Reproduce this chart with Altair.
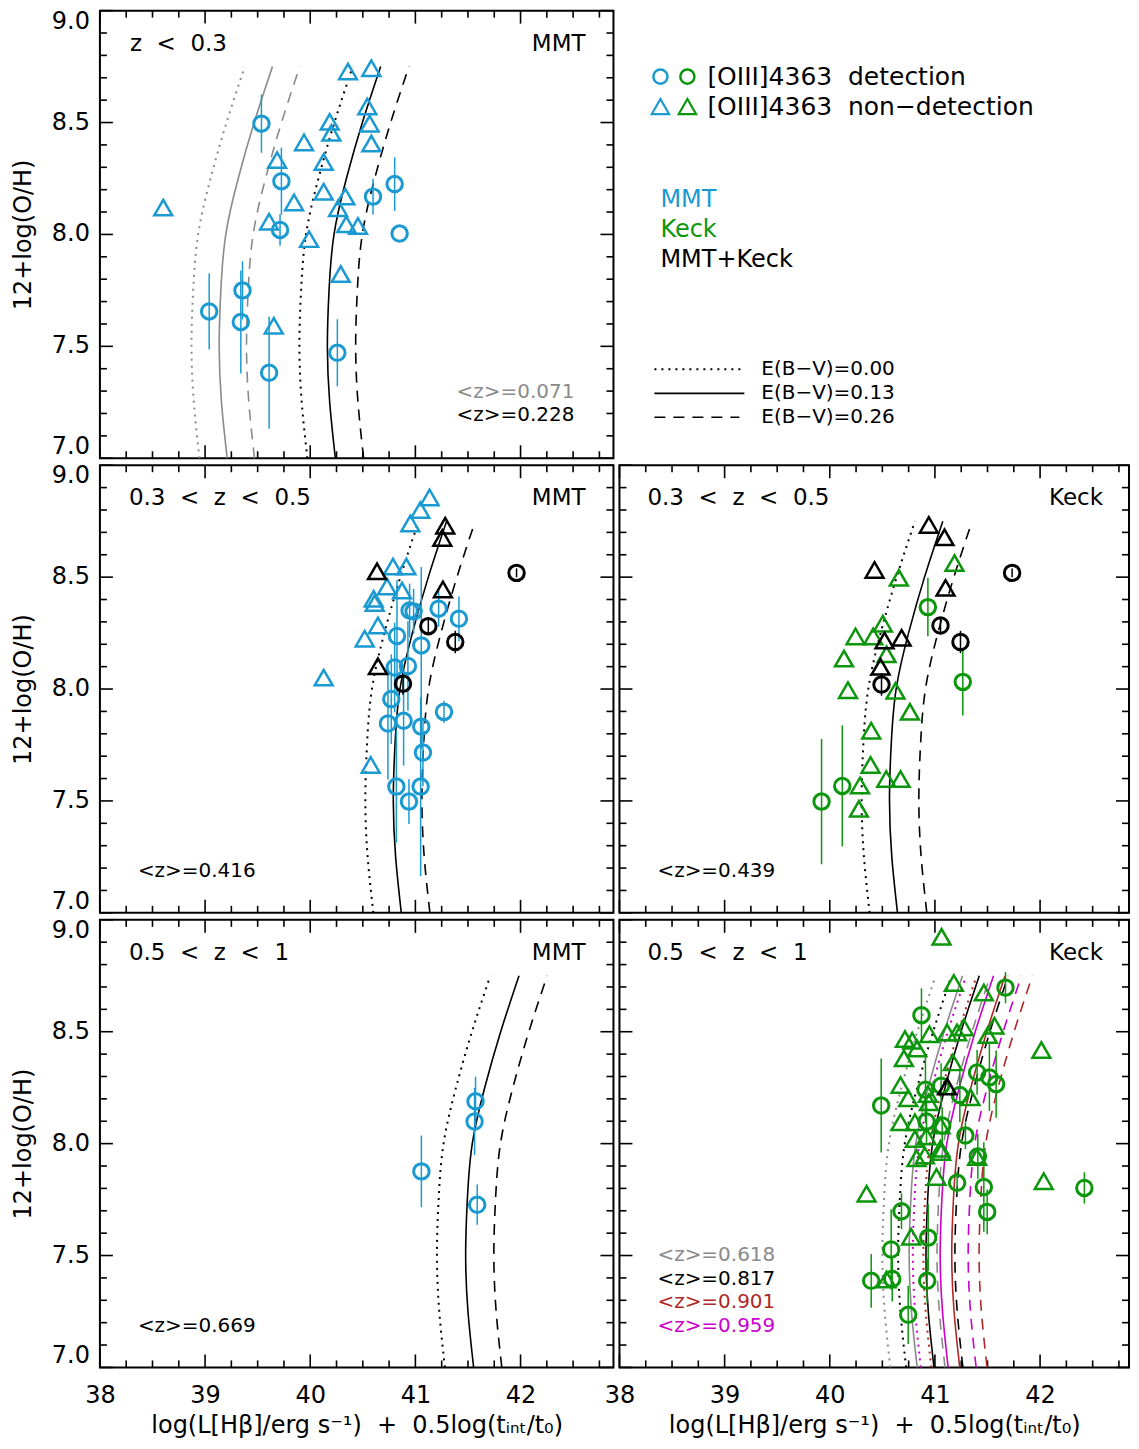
import altair as alt
import pandas as pd

FONT = "DejaVu Sans"
BLUE = "#1B9AD2"
GREEN = "#0B960B"
BLACK = "#000000"
GRAY = "#8A8A8A"
BROWN = "#B02828"
MAGENTA = "#CC00CC"
NB = "\u00a0"  # non-breaking space (SVG collapses normal spaces)

# ---------------- axis ticks ----------------
X_MAJOR = [38, 39, 40, 41, 42]
X_MINOR = [38.25, 38.5, 38.75, 39.25, 39.5, 39.75, 40.25, 40.5, 40.75,
           41.25, 41.5, 41.75, 42.25, 42.5, 42.75]
Y_MAJOR = [7.0, 7.5, 8.0, 8.5, 9.0]
Y_LABELS = ["7.0", "7.5", "8.0", "8.5", "9.0"]
Y_MINOR = [7.1, 7.2, 7.3, 7.4, 7.6, 7.7, 7.8, 7.9, 8.1, 8.2, 8.3, 8.4,
           8.6, 8.7, 8.8, 8.9]

# ---------------- model curves (x at each CURVE_Y) ----------------
CURVE_Y = [7.0, 7.25, 7.5, 7.75, 8.0, 8.25, 8.5, 8.75]

# panel 1: <z>=0.071 (gray) and <z>=0.228 (black)
P1_G_DOT = [38.947, 38.893, 38.871, 38.887, 38.934, 39.052, 39.204, 39.378]
P1_G_SOL = [39.210, 39.156, 39.134, 39.150, 39.197, 39.315, 39.467, 39.641]
P1_G_DSH = [39.470, 39.416, 39.394, 39.410, 39.457, 39.575, 39.727, 39.901]
P1_K_DOT = [39.973, 39.919, 39.897, 39.913, 39.960, 40.078, 40.230, 40.404]
P1_K_SOL = [40.239, 40.185, 40.163, 40.179, 40.226, 40.344, 40.496, 40.670]
P1_K_DSH = [40.508, 40.454, 40.432, 40.448, 40.495, 40.613, 40.765, 40.939]
# panel 2: <z>=0.416
P2_DOT = [40.600, 40.546, 40.524, 40.540, 40.587, 40.705, 40.857, 41.031]
P2_SOL = [40.866, 40.812, 40.790, 40.806, 40.853, 40.971, 41.123, 41.297]
P2_DSH = [41.138, 41.084, 41.062, 41.078, 41.125, 41.243, 41.395, 41.569]
# panel 3: <z>=0.439
P3_DOT = [40.379, 40.325, 40.303, 40.319, 40.366, 40.484, 40.636, 40.810]
P3_SOL = [40.644, 40.590, 40.568, 40.584, 40.631, 40.749, 40.901, 41.075]
P3_DSH = [40.923, 40.869, 40.847, 40.863, 40.910, 41.028, 41.180, 41.354]
# panel 4: <z>=0.669
P4_DOT = [41.281, 41.227, 41.205, 41.221, 41.268, 41.386, 41.538, 41.712]
P4_SOL = [41.554, 41.500, 41.478, 41.494, 41.541, 41.659, 41.811, 41.985]
P4_DSH = [41.822, 41.768, 41.746, 41.762, 41.809, 41.927, 42.079, 42.253]
# panel 5: <z>=0.618 gray, 0.817 black, 0.901 brown, 0.959 magenta
P5_G_DOT = [40.576, 40.522, 40.500, 40.516, 40.563, 40.681, 40.833, 41.007]
P5_G_SOL = [40.831, 40.777, 40.755, 40.771, 40.818, 40.936, 41.088, 41.262]
P5_G_DSH = [41.096, 41.042, 41.020, 41.036, 41.083, 41.201, 41.353, 41.527]
P5_K_DOT = [40.726, 40.672, 40.650, 40.666, 40.713, 40.831, 40.983, 41.157]
P5_K_SOL = [40.991, 40.937, 40.915, 40.931, 40.978, 41.096, 41.248, 41.422]
P5_K_DSH = [41.266, 41.212, 41.190, 41.206, 41.253, 41.371, 41.523, 41.697]
P5_R_DOT = [40.966, 40.912, 40.890, 40.906, 40.953, 41.071, 41.223, 41.397]
P5_R_SOL = [41.236, 41.182, 41.160, 41.176, 41.223, 41.341, 41.493, 41.667]
P5_R_DSH = [41.496, 41.442, 41.420, 41.436, 41.483, 41.601, 41.753, 41.927]
P5_M_DOT = [40.866, 40.812, 40.790, 40.806, 40.853, 40.971, 41.123, 41.297]
P5_M_SOL = [41.126, 41.072, 41.050, 41.066, 41.113, 41.231, 41.383, 41.557]
P5_M_DSH = [41.392, 41.338, 41.316, 41.332, 41.379, 41.497, 41.649, 41.823]

# ---------------- galaxies ----------------
# panel 1 (z<0.3, MMT)
P1_DET_X = [39.536, 39.726, 39.713, 39.039, 39.356, 39.340, 39.609, 40.258, 40.597, 40.803, 40.850]
P1_DET_Y = [8.495, 8.238, 8.020, 7.656, 7.750, 7.609, 7.382, 7.471, 8.169, 8.225, 8.004]
P1_DET_E = [0.13, 0.15, 0.07, 0.17, 0.13, 0.23, 0.25, 0.15, 0.08, 0.12, 0.0]
P1_NON_X = [38.602, 40.359, 40.581, 40.543, 40.565, 40.581, 40.185, 40.201, 39.941, 39.685, 40.128,
            40.128, 39.846, 40.334, 40.265, 39.609, 40.343, 40.454, 39.989, 40.290, 39.653]
P1_NON_Y = [8.120, 8.728, 8.743, 8.572, 8.495, 8.406, 8.503, 8.454, 8.411, 8.332, 8.324,
            8.191, 8.143, 8.169, 8.117, 8.057, 8.045, 8.038, 7.979, 7.823, 7.592]

# panel 2 (0.3<z<0.5, MMT)
P2_DET_X = [40.945, 40.983, 41.221, 41.414, 40.825, 41.056, 40.803, 40.929, 40.771, 41.272, 40.739,
            40.888, 41.056, 41.072, 40.819, 41.050, 40.939]
P2_DET_Y = [8.351, 8.347, 8.359, 8.314, 8.237, 8.195, 8.096, 8.103, 7.955, 7.898, 7.846,
            7.858, 7.832, 7.716, 7.564, 7.564, 7.497]
P2_DET_E = [0.12, 0.10, 0.08, 0.10, 0.25, 0.35, 0.20, 0.20, 0.20, 0.05, 0.25,
            0.20, 0.10, 0.15, 0.25, 0.40, 0.10]
P2_NON_X = [41.135, 41.047, 40.952, 40.787, 40.914, 40.730, 40.873, 40.603, 40.613, 40.644, 40.518, 40.128, 40.575]
P2_NON_Y = [8.856, 8.800, 8.740, 8.547, 8.547, 8.458, 8.440, 8.403, 8.384, 8.284, 8.225, 8.051, 7.661]
P2_BDET_X = [41.123, 41.379, 40.882, 41.962]
P2_BDET_Y = [8.281, 8.210, 8.024, 8.519]
P2_BDET_E = [0.04, 0.05, 0.05, 0.02]
P2_BNON_X = [40.635, 41.284, 41.256, 41.262, 40.644]
P2_BNON_Y = [8.526, 8.730, 8.675, 8.445, 8.102]

# panel 3 (0.3<z<0.5, Keck)
P3_DET_X = [40.933, 41.265, 40.119, 39.922]
P3_DET_Y = [8.366, 8.032, 7.567, 7.497]
P3_DET_E = [0.13, 0.15, 0.27, 0.28]
P3_NON_X = [41.186, 40.657, 40.505, 40.245, 40.413, 40.540, 40.135, 40.173, 40.625, 40.762,
            40.394, 40.388, 40.537, 40.673, 40.287, 40.277]
P3_NON_Y = [8.563, 8.497, 8.292, 8.235, 8.235, 8.155, 8.136, 7.995, 7.992, 7.898,
            7.814, 7.661, 7.598, 7.598, 7.569, 7.465]
P3_BDET_X = [41.053, 41.243, 40.492, 41.734]
P3_BDET_Y = [8.284, 8.210, 8.020, 8.519]
P3_BDET_E = [0.03, 0.05, 0.05, 0.02]
P3_BNON_X = [40.942, 41.091, 40.426, 41.101, 40.521, 40.683, 40.483]
P3_BNON_Y = [8.733, 8.678, 8.532, 8.452, 8.217, 8.229, 8.099]

# panel 4 (0.5<z<1, MMT)
P4_DET_X = [41.572, 41.563, 41.057, 41.588]
P4_DET_Y = [8.189, 8.099, 7.876, 7.727]
P4_DET_E = [0.11, 0.15, 0.16, 0.09]

# panel 5 (0.5<z<1, Keck)
P5_DET_X = [41.671, 40.872, 41.401, 41.518, 41.582, 40.910, 41.059, 41.237, 40.489, 40.920, 41.069, 41.290,
            41.408, 41.211, 41.465, 41.497, 40.682, 40.936, 40.584, 40.594, 40.394, 40.926, 40.746, 42.421]
P5_DET_Y = [8.697, 8.574, 8.318, 8.296, 8.266, 8.241, 8.259, 8.217, 8.170, 8.099, 8.081, 8.036,
            7.943, 7.825, 7.806, 7.695, 7.698, 7.580, 7.527, 7.395, 7.387, 7.387, 7.235, 7.802]
P5_DET_E = [0.07, 0.12, 0.10, 0.15, 0.15, 0.15, 0.10, 0.12, 0.21, 0.10, 0.08, 0.06,
            0.10, 0.05, 0.20, 0.10, 0.08, 0.15, 0.18, 0.10, 0.12, 0.10, 0.13, 0.07]
P5_NON_X = [41.063, 41.180, 41.465, 40.715, 40.784, 40.831, 40.948, 41.116, 41.211, 41.275, 41.503, 41.566,
            42.012, 40.705, 41.170, 40.673, 40.746, 40.933, 40.943, 41.338, 40.673, 40.810, 41.053, 40.810,
            40.920, 41.053, 40.825, 40.904, 41.059, 41.401, 41.015, 42.035, 40.350, 40.774, 40.540]
P5_NON_Y = [8.924, 8.718, 8.675, 8.467, 8.460, 8.425, 8.489, 8.497, 8.497, 8.519, 8.485, 8.527,
            8.418, 8.381, 8.363, 8.262, 8.203, 8.222, 8.185, 8.207, 8.096, 8.096, 8.081, 8.021,
            8.032, 7.977, 7.935, 7.947, 7.962, 7.940, 7.851, 7.832, 7.776, 7.584, 7.393]
P5_BNON_X = [41.116]
P5_BNON_Y = [8.255]

# ---------------- text ----------------
XTITLE = "log(L[H\u03b2]/erg" + NB + "s\u207b\u00b9)" + NB * 2 + "+" + NB * 2 + "0.5log(t\u1d62\u2099\u209c/t\u2080)"
YTITLE = "12+log(O/H)"
SEP = NB * 2
T_LOW = "z" + SEP + "<" + SEP + "0.3"
T_MID = "0.3" + SEP + "<" + SEP + "z" + SEP + "<" + SEP + "0.5"
T_HIGH = "0.5" + SEP + "<" + SEP + "z" + SEP + "<" + SEP + "1"

# ---------------- layout ----------------
W_LEFT, W_RIGHT, H = 514, 510, 448
PX_X = 105.25
PX_Y = H / 2.0
MAJ, MIN = 13, 7

DOT = [2, 5]
DASH = [11, 8]


def make_panel(width, bottom, left, curves, groups, texts):
    xmax = 38 + width / PX_X
    xs = alt.Scale(domain=[38, xmax], nice=False, zero=False)
    ys = alt.Scale(domain=[7, 9], nice=False, zero=False)
    if bottom:
        xaxis = alt.Axis(values=X_MAJOR, format="d", ticks=False, domain=False, grid=False,
                         labelFlush=False, labelFontSize=24, labelPadding=16, labelColor="black",
                         title=XTITLE, titleFontSize=24, titleFontWeight="normal",
                         titlePadding=6, titleColor="black")
    else:
        xaxis = None
    if left:
        yaxis = alt.Axis(labels=False, ticks=False, domain=False, grid=False,
                         title=YTITLE, titleFontSize=24, titleFontWeight="normal",
                         titlePadding=64, titleColor="black")
    else:
        yaxis = None

    def X(f):
        return alt.X(f, type="quantitative", scale=xs, axis=xaxis)

    def Y(f):
        return alt.Y(f, type="quantitative", scale=ys, axis=yaxis)

    layers = []
    # tick marks (inward, on all four sides)
    xt = X_MAJOR + X_MINOR
    xl = [MAJ] * len(X_MAJOR) + [MIN] * len(X_MINOR)
    yt = Y_MAJOR + Y_MINOR
    yl = [MAJ] * len(Y_MAJOR) + [MIN] * len(Y_MINOR)
    bot = pd.DataFrame({"x": xt, "a": [7.0] * len(xt), "b": [7.0 + l / PX_Y for l in xl]})
    top = pd.DataFrame({"x": xt, "a": [9.0] * len(xt), "b": [9.0 - l / PX_Y for l in xl]})
    lft = pd.DataFrame({"y": yt, "a": [38.0] * len(yt), "b": [38.0 + l / PX_X for l in yl]})
    rgt = pd.DataFrame({"y": yt, "a": [xmax] * len(yt), "b": [xmax - l / PX_X for l in yl]})
    for df in (bot, top):
        layers.append(alt.Chart(df).mark_rule(color="black", strokeWidth=1.6).encode(
            x=X("x"), y=Y("a"), y2=alt.Y2("b")))
    for df in (lft, rgt):
        layers.append(alt.Chart(df).mark_rule(color="black", strokeWidth=1.6).encode(
            y=Y("y"), x=X("a"), x2=alt.X2("b")))

    # y tick labels (kept inside the frame at both ends, like the original)
    if left:
        for idx, shift in ((slice(0, 1), -11), (slice(1, 4), 0), (slice(4, 5), 11)):
            df = pd.DataFrame({"x": [38.0] * len(Y_MAJOR[idx]), "y": Y_MAJOR[idx], "t": Y_LABELS[idx]})
            layers.append(alt.Chart(df).mark_text(align="right", baseline="middle", dx=-10, dy=shift,
                                                  fontSize=24, color="black", font=FONT).encode(
                x=X("x"), y=Y("y"), text="t:N"))

    # model curves
    for cx, color, style in curves:
        df = pd.DataFrame({"x": cx, "y": CURVE_Y})
        kw = dict(color=color, interpolate="natural")
        if style == "dot":
            kw.update(strokeDash=DOT, strokeWidth=2.0)
        elif style == "dash":
            kw.update(strokeDash=DASH, strokeWidth=1.6)
        else:
            kw.update(strokeWidth=1.6)
        layers.append(alt.Chart(df).mark_line(**kw).encode(
            x=X("x"), y=Y("y"), order=alt.Order("y:Q")))

    # error bars then symbols
    for gx, gy, ge, color, shape in groups:
        if ge is not None:
            df = pd.DataFrame({"x": gx, "lo": [v - e for v, e in zip(gy, ge)],
                               "hi": [v + e for v, e in zip(gy, ge)]})
            layers.append(alt.Chart(df).mark_rule(color=color, strokeWidth=1.5).encode(
                x=X("x"), y=Y("lo"), y2=alt.Y2("hi")))
    for gx, gy, ge, color, shape in groups:
        df = pd.DataFrame({"x": gx, "y": gy})
        if shape == "circle":
            mk = dict(shape="circle", size=240, strokeWidth=3)
        else:
            mk = dict(shape="triangle-up", size=320, strokeWidth=2.5)
        layers.append(alt.Chart(df).mark_point(filled=False, color=color, opacity=1, **mk).encode(
            x=X("x"), y=Y("y")))

    # labels
    for txt, px, py, align, size, color in texts:
        df = pd.DataFrame({"t": [txt]})
        layers.append(alt.Chart(df).mark_text(align=align, baseline="middle", fontSize=size,
                                              color=color, font=FONT).encode(
            x=alt.value(px), y=alt.value(py), text="t:N"))

    return alt.layer(*layers).properties(width=width, height=H)


p1 = make_panel(
    W_LEFT, False, True,
    [(P1_G_DOT, GRAY, "dot"), (P1_G_SOL, GRAY, "sol"), (P1_G_DSH, GRAY, "dash"),
     (P1_K_DOT, BLACK, "dot"), (P1_K_SOL, BLACK, "sol"), (P1_K_DSH, BLACK, "dash")],
    [(P1_DET_X, P1_DET_Y, P1_DET_E, BLUE, "circle"),
     (P1_NON_X, P1_NON_Y, None, BLUE, "tri")],
    [(T_LOW, 30, 33, "left", 23, BLACK), ("MMT", 486, 33, "right", 23, BLACK),
     ("<z>=0.071", 357, 382, "left", 20, GRAY), ("<z>=0.228", 357, 405, "left", 20, BLACK)])

p2 = make_panel(
    W_LEFT, False, True,
    [(P2_DOT, BLACK, "dot"), (P2_SOL, BLACK, "sol"), (P2_DSH, BLACK, "dash")],
    [(P2_DET_X, P2_DET_Y, P2_DET_E, BLUE, "circle"),
     (P2_NON_X, P2_NON_Y, None, BLUE, "tri"),
     (P2_BDET_X, P2_BDET_Y, P2_BDET_E, BLACK, "circle"),
     (P2_BNON_X, P2_BNON_Y, None, BLACK, "tri")],
    [(T_MID, 29, 33, "left", 23, BLACK), ("MMT", 486, 33, "right", 23, BLACK),
     ("<z>=0.416", 38, 406, "left", 20, BLACK)])

p3 = make_panel(
    W_RIGHT, False, False,
    [(P3_DOT, BLACK, "dot"), (P3_SOL, BLACK, "sol"), (P3_DSH, BLACK, "dash")],
    [(P3_DET_X, P3_DET_Y, P3_DET_E, GREEN, "circle"),
     (P3_NON_X, P3_NON_Y, None, GREEN, "tri"),
     (P3_BDET_X, P3_BDET_Y, P3_BDET_E, BLACK, "circle"),
     (P3_BNON_X, P3_BNON_Y, None, BLACK, "tri")],
    [(T_MID, 28, 33, "left", 23, BLACK), ("Keck", 484, 33, "right", 23, BLACK),
     ("<z>=0.439", 38, 406, "left", 20, BLACK)])

p4 = make_panel(
    W_LEFT, True, True,
    [(P4_DOT, BLACK, "dot"), (P4_SOL, BLACK, "sol"), (P4_DSH, BLACK, "dash")],
    [(P4_DET_X, P4_DET_Y, P4_DET_E, BLUE, "circle")],
    [(T_HIGH, 29, 33, "left", 23, BLACK), ("MMT", 486, 33, "right", 23, BLACK),
     ("<z>=0.669", 38, 407, "left", 20, BLACK)])

p5 = make_panel(
    W_RIGHT, True, False,
    [(P5_G_DOT, GRAY, "dot"), (P5_G_SOL, GRAY, "sol"), (P5_G_DSH, GRAY, "dash"),
     (P5_K_DOT, BLACK, "dot"), (P5_K_SOL, BLACK, "sol"), (P5_K_DSH, BLACK, "dash"),
     (P5_R_DOT, BROWN, "dot"), (P5_R_SOL, BROWN, "sol"), (P5_R_DSH, BROWN, "dash"),
     (P5_M_DOT, MAGENTA, "dot"), (P5_M_SOL, MAGENTA, "sol"), (P5_M_DSH, MAGENTA, "dash")],
    [(P5_DET_X, P5_DET_Y, P5_DET_E, GREEN, "circle"),
     (P5_NON_X, P5_NON_Y, None, GREEN, "tri"),
     (P5_BNON_X, P5_BNON_Y, None, BLACK, "tri")],
    [(T_HIGH, 28, 33, "left", 23, BLACK), ("Keck", 484, 33, "right", 23, BLACK),
     ("<z>=0.618", 38, 335, "left", 20, GRAY), ("<z>=0.817", 38, 359, "left", 20, BLACK),
     ("<z>=0.901", 38, 383, "left", 20, BROWN), ("<z>=0.959", 38, 407, "left", 20, MAGENTA)])

# ---------------- legend panel (top right) ----------------
LEG_SYMBOLS = [("circle", BLUE, 41, 66), ("circle", GREEN, 68, 66),
               ("triangle-up", BLUE, 41, 96), ("triangle-up", GREEN, 68, 96)]
LEG_TEXT = [("[OIII]4363" + SEP + "detection", 88, 66, 25, BLACK),
            ("[OIII]4363" + SEP + "non\u2212detection", 88, 96, 25, BLACK),
            ("MMT", 41, 190, 24, BLUE), ("Keck", 41, 220, 24, GREEN),
            ("MMT+Keck", 41, 250, 24, BLACK),
            ("E(B\u2212V)=0.00", 142, 359, 20, BLACK),
            ("E(B\u2212V)=0.13", 142, 383, 20, BLACK),
            ("E(B\u2212V)=0.26", 142, 407, 20, BLACK)]
LEG_LINES = [("dot", 35, 125, 359), ("sol", 35, 125, 383), ("dash", 35, 120, 407)]

one = pd.DataFrame({"a": [0]})
leg_layers = []
for shp, col, px, py in LEG_SYMBOLS:
    if shp == "circle":
        mk = dict(size=200, strokeWidth=2.5)
    else:
        mk = dict(size=300, strokeWidth=2.2)
    leg_layers.append(alt.Chart(one).mark_point(shape=shp, filled=False, color=col, opacity=1, **mk).encode(
        x=alt.value(px), y=alt.value(py)))
for style, x1, x2, py in LEG_LINES:
    kw = dict(color="black")
    if style == "dot":
        kw.update(strokeDash=DOT, strokeWidth=2.0)
    elif style == "dash":
        kw.update(strokeDash=DASH, strokeWidth=1.6)
    else:
        kw.update(strokeWidth=1.8)
    leg_layers.append(alt.Chart(one).mark_rule(**kw).encode(
        x=alt.value(x1), x2=alt.value(x2), y=alt.value(py)))
for txt, px, py, size, col in LEG_TEXT:
    df = pd.DataFrame({"t": [txt]})
    leg_layers.append(alt.Chart(df).mark_text(align="left", baseline="middle", fontSize=size,
                                              color=col, font=FONT).encode(
        x=alt.value(px), y=alt.value(py), text="t:N"))
legend = alt.layer(*leg_layers).properties(
    width=W_RIGHT, height=H, view=alt.ViewBackground(stroke="transparent"))

row1 = alt.hconcat(p1, legend, spacing=6, bounds="flush")
row2 = alt.hconcat(p2, p3, spacing=6, bounds="flush")
row3 = alt.hconcat(p4, p5, spacing=6, bounds="flush")

chart = alt.vconcat(row1, row2, row3, spacing=0).properties(
    padding={"left": 3, "top": 0, "right": 0, "bottom": 0}
).configure(font=FONT).configure_view(stroke="black", strokeWidth=2)

chart.save("out.html", embed_options={"renderer": "svg", "actions": False})
